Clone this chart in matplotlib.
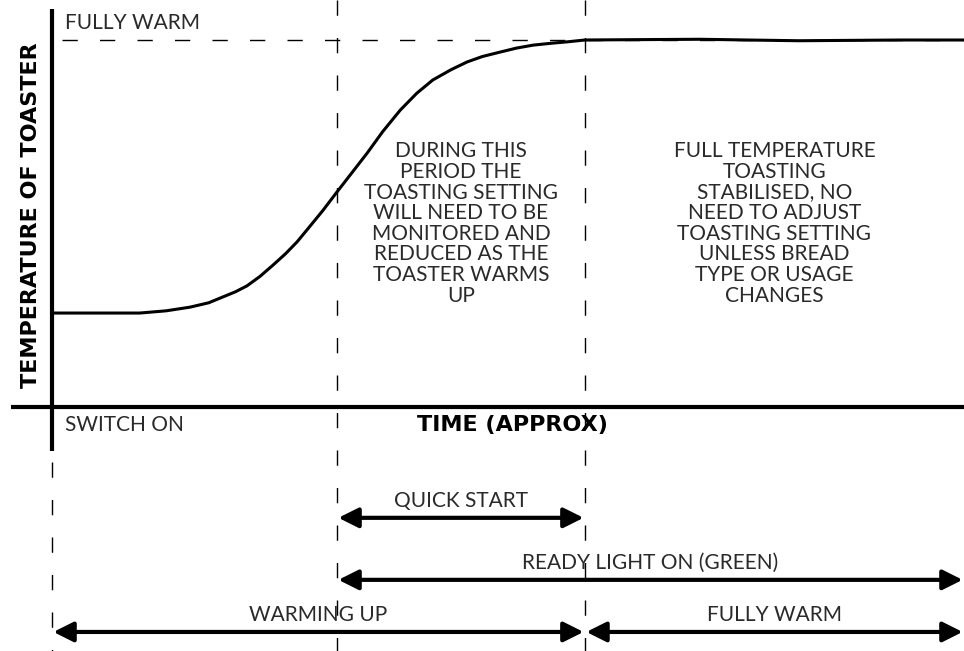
import matplotlib
matplotlib.use('Agg')
import matplotlib.pyplot as plt

plt.rcParams['font.family'] = ['Lato', 'DejaVu Sans']
plt.rcParams['lines.scale_dashes'] = False

# time (arbitrary units) and toaster temperature (% of fully warm)
switch_on = 0.0
quick_start = 5.0
fully_warm_t = 9.35
t_end = 16.0
full_temp = 100.0

curve_t = [0.0, 0.8, 1.54, 2.0, 2.42, 2.75, 3.0, 3.22, 3.42, 3.65, 3.88, 4.1, 4.3,
           4.47, 4.75, 5.0, 5.25, 5.53, 5.8, 6.11, 6.4, 6.68, 7.0, 7.28, 7.55,
           7.86, 8.15, 8.44, 8.75, 9.04, 9.35, 10.3, 11.37, 12.2, 13.1, 14.0,
           14.9, 16.0]
curve_temp = [25.6, 25.6, 25.6, 26.2, 27.2, 28.4, 30.0, 31.4, 33.0, 35.6, 38.7, 41.8,
              45.0, 48.2, 53.5, 58.6, 63.6, 69.2, 75.0, 80.9, 85.5, 89.1, 91.9, 94.0,
              95.5, 96.7, 97.8, 98.6, 99.1, 99.5, 100.0, 100.1, 100.2, 100.0, 99.8,
              99.9, 100.0, 100.0]

middle_note = ("DURING THIS\nPERIOD THE\nTOASTING SETTING\nWILL NEED TO BE\n"
               "MONITORED AND\nREDUCED AS THE\nTOASTER WARMS\nUP")
right_note = ("FULL TEMPERATURE\nTOASTING\nSTABILISED, NO\nNEED TO ADJUST\n"
              "TOASTING SETTING\nUNLESS BREAD\nTYPE OR USAGE\nCHANGES")

span_labels = ["QUICK START", "READY LIGHT ON (GREEN)", "WARMING UP", "FULLY WARM"]
span_start = [quick_start, quick_start, switch_on, fully_warm_t]
span_end = [fully_warm_t, t_end, fully_warm_t, t_end]
span_row = [-30.2, -47.1, -61.3, -61.3]

fig = plt.figure(figsize=(9.64, 6.51), dpi=100)
ax = fig.add_axes([0, 0, 1, 1])
ax.set_xlim(-0.9123, 16.0)
ax.set_ylim(-66.49, 110.9)
ax.axis('off')

thin = dict(color='#2a2a2a', fontsize=15, fontweight='normal')
bold = dict(color='black', fontsize=16, fontweight='bold', family=['DejaVu Sans'])
dash = dict(color='black', lw=1.0, dashes=(11, 16))

# axes lines
ax.plot([-0.72, t_end], [0, 0], color='black', lw=3, solid_capstyle='butt')
ax.plot([0, 0], [-12, 108.4], color='black', lw=3, solid_capstyle='butt')

# guide lines
ax.plot([0.18, t_end], [full_temp, full_temp], **dash)
for t in (quick_start, fully_warm_t):
    ax.plot([t, t], [110.9, -66.49], **dash)
ax.plot([0, 0], [-15, -66.49], **dash)

# temperature curve
ax.plot(curve_t, curve_temp, color='black', lw=2.2, solid_joinstyle='round')

# labels
ax.text(0.23, 104.5, "FULLY WARM", ha='left', va='center', **thin)
ax.text(0.23, -4.9, "SWITCH ON", ha='left', va='center', **thin)
ax.text(8.07, -4.9, "TIME (APPROX)", ha='center', va='center', **bold)
ax.text(-0.36, 52.3, "TEMPERATURE OF TOASTER", rotation=90, ha='center', va='center', **bold)

ax.text((quick_start + fully_warm_t) / 2, 50, middle_note, ha='center', va='center',
        linespacing=1.04, multialignment='center', **thin)
ax.text((fully_warm_t + t_end) / 2, 50, right_note, ha='center', va='center',
        linespacing=1.04, multialignment='center', **thin)

# span arrows
for label, a, b, row in zip(span_labels, span_start, span_end, span_row):
    ax.annotate('', xy=(b, row), xytext=(a, row),
                arrowprops=dict(arrowstyle='<|-|>,head_length=0.6,head_width=0.3',
                                mutation_scale=20, lw=3, color='black',
                                shrinkA=1, shrinkB=1))
    ax.annotate(label, xy=((a + b) / 2, row), xytext=(0, 5),
                textcoords='offset points', ha='center', va='bottom', **thin)

fig.savefig('out.png', dpi=100)
